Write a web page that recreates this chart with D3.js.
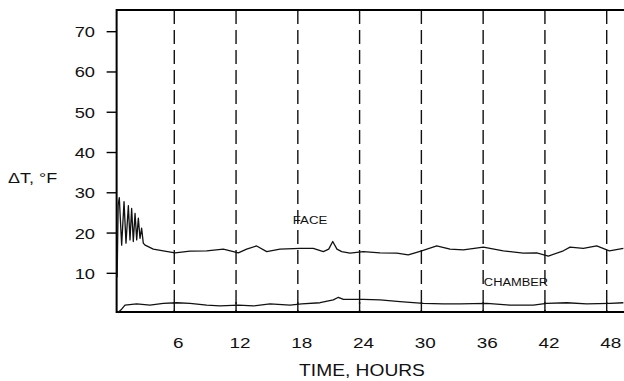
<!DOCTYPE html>
<html>
<head>
<meta charset="utf-8">
<script src="https://cdn.jsdelivr.net/npm/d3@7.9.0/dist/d3.min.js"></script>
<style>
  body { margin: 0; background: #fff; }
  svg { display: block; font-family: "Liberation Sans", Arial, sans-serif; }
</style>
</head>
<body>
<svg id="chart" width="624" height="381"></svg>
<script>
// hours on the x axis, delta T (deg F) on the y axis
const xTicks = [6, 12, 18, 24, 30, 36, 42, 48];
const yTicks = [10, 20, 30, 40, 50, 60, 70];

const faceHours = [0.45, 0.55, 0.66, 0.89, 1.12, 1.31, 1.54, 1.70, 1.86, 2.02, 2.19, 2.35, 2.51, 2.67, 2.83, 2.99, 3.16,
  3.32, 3.96, 4.93, 6.07, 7.53, 9.15, 10.76, 12.22, 13.03, 14.0, 14.98, 16.27, 18.21, 19.5, 20.48, 21.0, 21.39, 21.8,
  22.26, 23.07, 24.36, 25.98, 27.61, 28.73, 30.03, 31.49, 32.78, 34.07, 36.02, 37.96, 39.9, 41.2, 42.33, 43.79,
  44.44, 45.73, 47.03, 48.26, 49.62];
const faceTemp = [9, 27, 28.8, 17.0, 27.8, 17.5, 26.8, 18.3, 26.1, 17.9, 24.9, 18.3, 23.7, 18.7, 21.2, 17.5, 17.0,
  16.8, 16.0, 15.6, 15.1, 15.5, 15.6, 16.0, 15.1, 16.0, 16.8, 15.4, 16.0, 16.2, 16.2, 15.4, 16.0, 17.9, 16.0,
  15.4, 15.0, 15.4, 15.1, 15.0, 14.6, 15.6, 16.8, 16.0, 15.8, 16.5, 15.6, 15.0, 15.1, 14.3, 15.6,
  16.5, 16.2, 16.8, 15.6, 16.2];

const chamberHours = [0.5, 0.89, 1.21, 2.35, 3.64, 4.93, 6.23, 7.53, 9.15, 10.44, 12.22, 13.68, 15.3, 17.24, 18.38,
  20.16, 21.45, 21.94, 22.42, 24.36, 25.98, 27.92, 30.19, 32.13, 33.75, 36.35, 38.61, 40.87, 42.17, 44.12, 46.06,
  48.32, 49.62];
const chamberTemp = [0.2, 1.1, 2.1, 2.4, 2.1, 2.55, 2.7, 2.55, 2.1, 1.9, 2.1, 1.9, 2.4, 2.1, 2.4,
  2.7, 3.4, 4.05, 3.55, 3.55, 3.4, 2.96, 2.55, 2.4, 2.4, 2.55, 2.1, 2.1, 2.55, 2.7, 2.4,
  2.55, 2.7];

const svg = d3.select('#chart');

const x = d3.scaleLinear().domain([0, 48]).range([112.5, 606.7]);
const y = d3.scaleLinear().domain([0, 70]).range([313.6, 31.7]);

const plotLeft = x(0.4);
const plotRight = 624;
const plotTop = y(75.4);
const plotBottom = y(0.4);

// dashed hour lines
xTicks.forEach((t) => {
  svg.append('line')
    .attr('x1', x(t)).attr('x2', x(t))
    .attr('y1', plotTop).attr('y2', plotBottom)
    .attr('stroke', '#111').attr('stroke-width', 1.4)
    .attr('stroke-dasharray', '14,6');
  svg.append('line')
    .attr('x1', x(t)).attr('x2', x(t))
    .attr('y1', plotBottom - 10).attr('y2', plotBottom)
    .attr('stroke', '#111').attr('stroke-width', 1.4);
});

// frame
svg.append('path')
  .attr('d', `M${plotRight},${plotTop}H${plotLeft}V${plotBottom}H${plotRight}`)
  .attr('fill', 'none').attr('stroke', '#000').attr('stroke-width', 2);

// y ticks + labels
yTicks.forEach((v) => {
  svg.append('line')
    .attr('x1', plotLeft - 10).attr('x2', plotLeft)
    .attr('y1', y(v)).attr('y2', y(v))
    .attr('stroke', '#000').attr('stroke-width', 1.4);
  svg.append('text')
    .attr('transform', `translate(95,${y(v) + 5.5}) scale(1.22,1)`)
    .attr('text-anchor', 'end')
    .attr('font-size', 15)
    .attr('fill', '#111')
    .text(v);
});

xTicks.forEach((t) => {
  svg.append('text')
    .attr('transform', `translate(${x(t) + 4},${348}) scale(1.22,1)`)
    .attr('text-anchor', 'middle')
    .attr('font-size', 15.5)
    .attr('fill', '#111')
    .text(t);
});

svg.append('text')
  .attr('transform', 'translate(362,375.5) scale(1.2,1)')
  .attr('text-anchor', 'middle')
  .attr('font-size', 16)
  .attr('fill', '#111')
  .text('TIME, HOURS');

svg.append('text')
  .attr('transform', 'translate(8,183) scale(1.2,1)')
  .attr('font-size', 15)
  .attr('fill', '#111')
  .text('ΔT, °F');

// series
const line = d3.line()
  .x((d) => x(d[0]))
  .y((d) => y(d[1]));

const face = d3.zip(faceHours, faceTemp);
const chamber = d3.zip(chamberHours, chamberTemp);

svg.append('path')
  .datum(face)
  .attr('d', line)
  .attr('fill', 'none').attr('stroke', '#111').attr('stroke-width', 1.3)
  .attr('stroke-linejoin', 'round');

svg.append('path')
  .datum(chamber)
  .attr('d', line)
  .attr('fill', 'none').attr('stroke', '#111').attr('stroke-width', 1.3)
  .attr('stroke-linejoin', 'round');

svg.append('text')
  .attr('transform', `translate(310,${y(22.3)}) scale(1.15,1)`)
  .attr('text-anchor', 'middle')
  .attr('font-size', 11.5)
  .attr('fill', '#111')
  .text('FACE');

svg.append('text')
  .attr('transform', `translate(516,${y(6.8)}) scale(1.12,1)`)
  .attr('text-anchor', 'middle')
  .attr('font-size', 11.5)
  .attr('fill', '#111')
  .text('CHAMBER');
</script>
</body>
</html>
